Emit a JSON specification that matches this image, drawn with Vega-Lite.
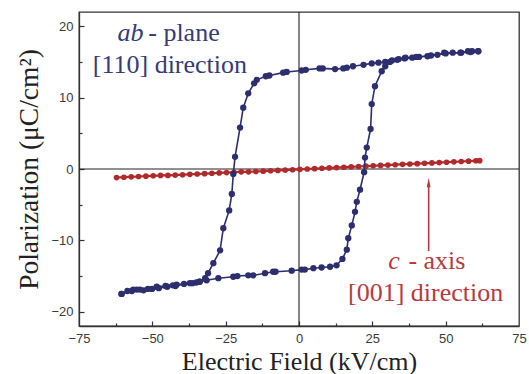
{
  "$schema": "https://vega.github.io/schema/vega-lite/v6.json",
  "width": 440,
  "height": 314,
  "autosize": {"type": "none"},
  "padding": {"left": 79, "top": 12, "right": 10, "bottom": 48},
  "background": "white",
  "config": {
    "view": {"stroke": "#333333", "strokeWidth": 1.3},
    "axis": {
      "grid": false,
      "domainColor": "#333333",
      "domainWidth": 1.3,
      "tickColor": "#333333",
      "tickWidth": 1.2,
      "labelFont": "Liberation Sans",
      "labelFontSize": 13,
      "labelColor": "#3a3a3a",
      "titleFont": "Liberation Serif",
      "titleFontSize": 26,
      "titleFontWeight": "normal",
      "titleColor": "#222222"
    }
  },
  "datasets": {
    "ab": [
      {"branch": "down", "i": 1, "E": 61.1, "P": 16.5},
      {"branch": "down", "i": 2, "E": 59.0, "P": 16.5},
      {"branch": "down", "i": 3, "E": 57.6, "P": 16.5},
      {"branch": "down", "i": 4, "E": 55.3, "P": 16.3},
      {"branch": "down", "i": 5, "E": 52.4, "P": 16.3},
      {"branch": "down", "i": 6, "E": 49.5, "P": 16.3},
      {"branch": "down", "i": 7, "E": 47.2, "P": 16.0},
      {"branch": "down", "i": 8, "E": 43.8, "P": 15.8},
      {"branch": "down", "i": 9, "E": 40.9, "P": 15.7},
      {"branch": "down", "i": 10, "E": 38.6, "P": 15.6},
      {"branch": "down", "i": 11, "E": 36.3, "P": 15.6},
      {"branch": "down", "i": 12, "E": 34.0, "P": 15.4},
      {"branch": "down", "i": 13, "E": 31.7, "P": 15.2},
      {"branch": "down", "i": 14, "E": 29.4, "P": 15.0},
      {"branch": "down", "i": 15, "E": 27.1, "P": 14.9},
      {"branch": "down", "i": 16, "E": 24.8, "P": 14.8},
      {"branch": "down", "i": 17, "E": 22.0, "P": 14.6},
      {"branch": "down", "i": 18, "E": 18.4, "P": 14.4},
      {"branch": "down", "i": 19, "E": 16.3, "P": 14.2},
      {"branch": "down", "i": 20, "E": 15.1, "P": 14.1},
      {"branch": "down", "i": 21, "E": 12.3, "P": 14.0},
      {"branch": "down", "i": 22, "E": 8.1, "P": 14.1},
      {"branch": "down", "i": 23, "E": 7.0, "P": 14.1},
      {"branch": "down", "i": 24, "E": 2.3, "P": 13.9},
      {"branch": "down", "i": 25, "E": 0.9, "P": 13.8},
      {"branch": "down", "i": 26, "E": -4.2, "P": 13.6},
      {"branch": "down", "i": 27, "E": -5.4, "P": 13.5},
      {"branch": "down", "i": 28, "E": -10.1, "P": 13.1},
      {"branch": "down", "i": 29, "E": -11.3, "P": 13.0},
      {"branch": "down", "i": 30, "E": -14.4, "P": 12.5},
      {"branch": "down", "i": 31, "E": -15.3, "P": 12.0},
      {"branch": "down", "i": 32, "E": -17.3, "P": 10.6},
      {"branch": "down", "i": 33, "E": -19.0, "P": 8.6},
      {"branch": "down", "i": 34, "E": -20.1, "P": 5.8},
      {"branch": "down", "i": 35, "E": -21.8, "P": 1.7},
      {"branch": "down", "i": 36, "E": -22.4, "P": -0.7},
      {"branch": "down", "i": 37, "E": -22.9, "P": -3.5},
      {"branch": "down", "i": 38, "E": -23.8, "P": -5.8},
      {"branch": "down", "i": 39, "E": -25.8, "P": -8.3},
      {"branch": "down", "i": 40, "E": -26.9, "P": -11.4},
      {"branch": "down", "i": 41, "E": -29.2, "P": -13.2},
      {"branch": "down", "i": 42, "E": -31.0, "P": -14.6},
      {"branch": "down", "i": 43, "E": -32.0, "P": -15.3},
      {"branch": "down", "i": 44, "E": -34.0, "P": -15.8},
      {"branch": "down", "i": 45, "E": -36.3, "P": -16.0},
      {"branch": "down", "i": 46, "E": -39.2, "P": -16.1},
      {"branch": "down", "i": 47, "E": -42.1, "P": -16.4},
      {"branch": "down", "i": 48, "E": -44.9, "P": -16.5},
      {"branch": "down", "i": 49, "E": -47.8, "P": -16.7},
      {"branch": "down", "i": 50, "E": -50.1, "P": -16.8},
      {"branch": "down", "i": 51, "E": -53.0, "P": -17.0},
      {"branch": "down", "i": 52, "E": -55.3, "P": -16.9},
      {"branch": "down", "i": 53, "E": -57.0, "P": -17.1},
      {"branch": "down", "i": 54, "E": -60.5, "P": -17.5},
      {"branch": "up", "i": 1, "E": -60.5, "P": -17.5},
      {"branch": "up", "i": 2, "E": -58.5, "P": -17.1},
      {"branch": "up", "i": 3, "E": -56.5, "P": -16.9},
      {"branch": "up", "i": 4, "E": -54.2, "P": -16.9},
      {"branch": "up", "i": 5, "E": -51.5, "P": -16.8},
      {"branch": "up", "i": 6, "E": -48.5, "P": -16.5},
      {"branch": "up", "i": 7, "E": -45.5, "P": -16.4},
      {"branch": "up", "i": 8, "E": -43.0, "P": -16.3},
      {"branch": "up", "i": 9, "E": -41.7, "P": -16.2},
      {"branch": "up", "i": 10, "E": -37.2, "P": -16.0},
      {"branch": "up", "i": 11, "E": -35.0, "P": -15.9},
      {"branch": "up", "i": 12, "E": -33.8, "P": -15.8},
      {"branch": "up", "i": 13, "E": -31.5, "P": -15.6},
      {"branch": "up", "i": 14, "E": -27.5, "P": -15.3},
      {"branch": "up", "i": 15, "E": -22.4, "P": -15.1},
      {"branch": "up", "i": 16, "E": -21.0, "P": -15.0},
      {"branch": "up", "i": 17, "E": -17.3, "P": -14.9},
      {"branch": "up", "i": 18, "E": -15.6, "P": -14.9},
      {"branch": "up", "i": 19, "E": -11.6, "P": -14.6},
      {"branch": "up", "i": 20, "E": -8.8, "P": -14.4},
      {"branch": "up", "i": 21, "E": -8.0, "P": -14.4},
      {"branch": "up", "i": 22, "E": -2.5, "P": -14.25},
      {"branch": "up", "i": 23, "E": 0.9, "P": -14.1},
      {"branch": "up", "i": 24, "E": 2.0, "P": -14.1},
      {"branch": "up", "i": 25, "E": 4.9, "P": -13.9},
      {"branch": "up", "i": 26, "E": 7.7, "P": -13.8},
      {"branch": "up", "i": 27, "E": 10.6, "P": -13.7},
      {"branch": "up", "i": 28, "E": 12.8, "P": -13.5},
      {"branch": "up", "i": 29, "E": 14.8, "P": -12.6},
      {"branch": "up", "i": 30, "E": 16.3, "P": -11.3},
      {"branch": "up", "i": 31, "E": 16.8, "P": -9.7},
      {"branch": "up", "i": 32, "E": 18.0, "P": -7.9},
      {"branch": "up", "i": 33, "E": 19.1, "P": -6.0},
      {"branch": "up", "i": 34, "E": 19.7, "P": -4.6},
      {"branch": "up", "i": 35, "E": 20.8, "P": -2.9},
      {"branch": "up", "i": 36, "E": 22.2, "P": -0.45},
      {"branch": "up", "i": 37, "E": 22.5, "P": 1.6},
      {"branch": "up", "i": 38, "E": 23.1, "P": 3.0},
      {"branch": "up", "i": 39, "E": 24.4, "P": 5.6},
      {"branch": "up", "i": 40, "E": 24.8, "P": 9.1},
      {"branch": "up", "i": 41, "E": 25.9, "P": 11.6},
      {"branch": "up", "i": 42, "E": 28.2, "P": 13.7},
      {"branch": "up", "i": 43, "E": 29.4, "P": 14.4},
      {"branch": "up", "i": 44, "E": 31.0, "P": 15.0},
      {"branch": "up", "i": 45, "E": 33.5, "P": 15.3},
      {"branch": "up", "i": 46, "E": 36.0, "P": 15.5},
      {"branch": "up", "i": 47, "E": 40.0, "P": 15.7},
      {"branch": "up", "i": 48, "E": 45.0, "P": 15.9},
      {"branch": "up", "i": 49, "E": 50.0, "P": 16.2},
      {"branch": "up", "i": 50, "E": 55.0, "P": 16.3},
      {"branch": "up", "i": 51, "E": 58.5, "P": 16.4},
      {"branch": "up", "i": 52, "E": 61.1, "P": 16.5}
    ],
    "c": [
      {"E": -62.2, "P": -1.2}, {"E": -59.7, "P": -1.15}, {"E": -57.2, "P": -1.1},
      {"E": -54.7, "P": -1.05}, {"E": -52.2, "P": -1.0}, {"E": -49.7, "P": -0.95},
      {"E": -47.2, "P": -0.9}, {"E": -44.7, "P": -0.9}, {"E": -42.2, "P": -0.85},
      {"E": -39.7, "P": -0.8}, {"E": -37.2, "P": -0.75}, {"E": -34.7, "P": -0.7},
      {"E": -32.2, "P": -0.65}, {"E": -29.7, "P": -0.6}, {"E": -27.2, "P": -0.55},
      {"E": -24.7, "P": -0.5}, {"E": -22.2, "P": -0.45}, {"E": -19.7, "P": -0.4},
      {"E": -17.2, "P": -0.4}, {"E": -14.7, "P": -0.35}, {"E": -12.2, "P": -0.3},
      {"E": -9.7, "P": -0.25}, {"E": -7.2, "P": -0.2}, {"E": -4.7, "P": -0.15},
      {"E": -2.2, "P": -0.1}, {"E": 0.3, "P": -0.05}, {"E": 2.8, "P": 0.0},
      {"E": 5.3, "P": 0.05}, {"E": 7.8, "P": 0.1}, {"E": 10.3, "P": 0.15},
      {"E": 12.8, "P": 0.2}, {"E": 15.3, "P": 0.25}, {"E": 17.8, "P": 0.3},
      {"E": 20.3, "P": 0.35}, {"E": 22.8, "P": 0.4}, {"E": 25.3, "P": 0.45},
      {"E": 27.8, "P": 0.5}, {"E": 30.3, "P": 0.55}, {"E": 32.8, "P": 0.6},
      {"E": 35.3, "P": 0.65}, {"E": 37.8, "P": 0.7}, {"E": 40.3, "P": 0.75},
      {"E": 42.8, "P": 0.8}, {"E": 45.3, "P": 0.85}, {"E": 47.8, "P": 0.9},
      {"E": 50.3, "P": 0.95}, {"E": 52.8, "P": 1.0}, {"E": 55.3, "P": 1.05},
      {"E": 57.8, "P": 1.1}, {"E": 60.3, "P": 1.15}, {"E": 61.6, "P": 1.17}
    ]
  },
  "resolve": {"axis": {"x": "independent", "y": "independent"}},
  "layer": [
    {
      "data": {"values": [{"v": 0}]},
      "mark": {"type": "rule", "color": "#222222", "strokeWidth": 1.1},
      "encoding": {
        "x": {
          "field": "v", "type": "quantitative",
          "scale": {"domain": [-75, 75], "nice": false, "zero": false},
          "axis": {
            "orient": "bottom",
            "values": [-75, -50, -25, 0, 25, 50, 75],
            "ticks": false,
            "labelPadding": 6,
            "labelFlush": false,
            "labelOverlap": false,
            "title": "Electric Field (kV/cm)",
            "titlePadding": 3
          }
        }
      }
    },
    {
      "data": {"values": [{"v": 0}]},
      "mark": {"type": "rule", "color": "#222222", "strokeWidth": 1.1},
      "encoding": {
        "y": {
          "field": "v", "type": "quantitative",
          "scale": {"domain": [-22, 22], "nice": false, "zero": false},
          "axis": {
            "orient": "left",
            "values": [-20, -10, 0, 10, 20],
            "ticks": false,
            "labelPadding": 6,
            "labelFlush": false,
            "labelOverlap": false,
            "title": "Polarization (μC/cm²)",
            "titleFontSize": 27.5,
            "titlePadding": 7
          }
        }
      }
    },
    {
      "data": {"values": [{"v": 0}]},
      "mark": {"type": "point", "opacity": 0},
      "encoding": {
        "x": {
          "field": "v", "type": "quantitative",
          "axis": {
            "orient": "bottom",
            "offset": -5,
            "values": [-50, -25, 0, 25, 50],
            "tickSize": 5,
            "labels": false,
            "domain": false,
            "title": null
          }
        },
        "y": {
          "field": "v", "type": "quantitative",
          "axis": {
            "orient": "left",
            "offset": -5,
            "values": [-20, -10, 0, 10, 20],
            "tickSize": 5,
            "labels": false,
            "domain": false,
            "title": null
          }
        }
      }
    },
    {
      "data": {"values": [{"v": 0}]},
      "mark": {"type": "point", "opacity": 0},
      "encoding": {
        "x": {
          "field": "v", "type": "quantitative",
          "axis": {
            "orient": "bottom",
            "offset": -3,
            "values": [-62.5, -37.5, -12.5, 12.5, 37.5, 62.5],
            "tickSize": 3,
            "labels": false,
            "domain": false,
            "title": null
          }
        },
        "y": {
          "field": "v", "type": "quantitative",
          "axis": {
            "orient": "left",
            "offset": -3,
            "values": [-15, -5, 5, 15],
            "tickSize": 3,
            "labels": false,
            "domain": false,
            "title": null
          }
        }
      }
    },
    {
      "data": {"name": "c"},
      "mark": {"type": "line", "color": "#b02a2c", "strokeWidth": 2.2},
      "encoding": {
        "x": {"field": "E", "type": "quantitative", "axis": null},
        "y": {"field": "P", "type": "quantitative", "axis": null}
      }
    },
    {
      "data": {"name": "c"},
      "mark": {"type": "point", "filled": true, "shape": "circle", "size": 32, "color": "#b02a2c", "opacity": 1},
      "encoding": {
        "x": {"field": "E", "type": "quantitative", "axis": null},
        "y": {"field": "P", "type": "quantitative", "axis": null}
      }
    },
    {
      "data": {"name": "ab"},
      "mark": {"type": "line", "color": "#2c2e6e", "strokeWidth": 1.6},
      "encoding": {
        "x": {"field": "E", "type": "quantitative", "axis": null},
        "y": {"field": "P", "type": "quantitative", "axis": null},
        "detail": {"field": "branch"},
        "order": {"field": "i", "type": "quantitative"}
      }
    },
    {
      "data": {"name": "ab"},
      "mark": {"type": "point", "filled": true, "shape": "circle", "size": 40, "color": "#2c2e6e", "opacity": 1},
      "encoding": {
        "x": {"field": "E", "type": "quantitative", "axis": null},
        "y": {"field": "P", "type": "quantitative", "axis": null}
      }
    },
    {
      "data": {"values": [{"E": 44.2, "P": -11.5, "P2": -2.2}]},
      "mark": {"type": "rule", "color": "#b03a3c", "strokeWidth": 1.6},
      "encoding": {
        "x": {"field": "E", "type": "quantitative", "axis": null},
        "y": {"field": "P", "type": "quantitative", "axis": null},
        "y2": {"field": "P2"}
      }
    },
    {
      "data": {"values": [{"E": 44.2, "P": -1.9}]},
      "mark": {"type": "point", "filled": true, "shape": "M0,-1L0.4,1L-0.4,1Z", "size": 90, "color": "#b03a3c", "opacity": 1},
      "encoding": {
        "x": {"field": "E", "type": "quantitative", "axis": null},
        "y": {"field": "P", "type": "quantitative", "axis": null}
      }
    },
    {
      "data": {"values": [
        {"E": -61.9, "P": 17.9, "t": "ab", "col": "ab"},
        {"E": 30.4, "P": -14.06, "t": "c", "col": "c"}
      ]},
      "mark": {"type": "text", "font": "Liberation Serif", "fontSize": 26, "fontStyle": "italic", "align": "left", "baseline": "alphabetic"},
      "encoding": {
        "x": {"field": "E", "type": "quantitative", "axis": null},
        "y": {"field": "P", "type": "quantitative", "axis": null},
        "text": {"field": "t"},
        "color": {"field": "col", "type": "nominal", "scale": {"domain": ["ab", "c"], "range": ["#363b78", "#b83a3c"]}, "legend": null}
      }
    },
    {
      "data": {"values": [
        {"E": -51.4, "P": 17.9, "t": "- plane", "col": "ab"},
        {"E": -70.3, "P": 13.4, "t": "[110] direction", "col": "ab"},
        {"E": 37.3, "P": -14.06, "t": "- axis", "col": "c"},
        {"E": 16.7, "P": -18.5, "t": "[001] direction", "col": "c"}
      ]},
      "mark": {"type": "text", "font": "Liberation Serif", "fontSize": 26, "align": "left", "baseline": "alphabetic"},
      "encoding": {
        "x": {"field": "E", "type": "quantitative", "axis": null},
        "y": {"field": "P", "type": "quantitative", "axis": null},
        "text": {"field": "t"},
        "color": {"field": "col", "type": "nominal", "scale": {"domain": ["ab", "c"], "range": ["#363b78", "#b83a3c"]}, "legend": null}
      }
    }
  ]
}
